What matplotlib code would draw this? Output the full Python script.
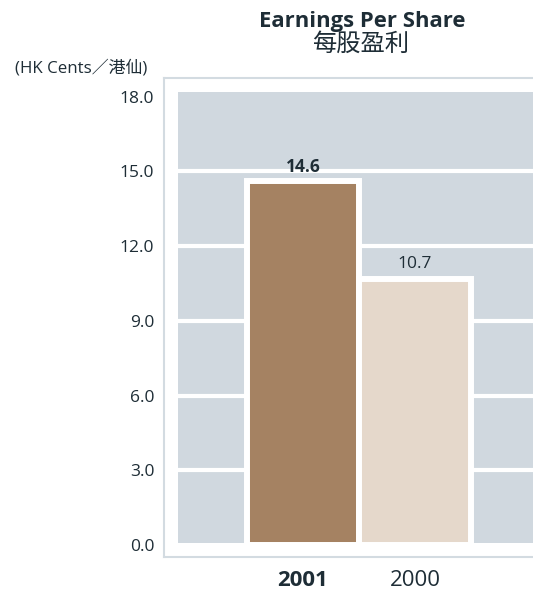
import matplotlib
matplotlib.use("Agg")
import matplotlib.pyplot as plt
from matplotlib.patches import Rectangle

years = ["2001", "2000"]
eps = [14.6, 10.7]
value_labels = ["14.6", "10.7"]
yticks = [0.0, 3.0, 6.0, 9.0, 12.0, 15.0, 18.0]

bar_colors = ["#a58262", "#e5d8cb"]
grey = "#d0d8df"
frame = "#d3dbe1"
txt = "#1e2d36"

plt.rcParams['font.family'] = ['Open Sans', 'Noto Sans CJK TC', 'DejaVu Sans']

fig = plt.figure(figsize=(5.33, 5.9), dpi=100)
ax = fig.add_axes([164/533, 33/590, 1 - 164/533, 479/590])
ax.set_xlim(-1.241, 2.054)
ax.set_ylim(-0.482, 18.755)

# grey panel + white grid
ax.add_patch(Rectangle((-1.116, 0.08), 4, 18.11, facecolor=grey, edgecolor='none', zorder=0))
for t in yticks[1:-1]:
    ax.axhline(t, color='white', lw=3, zorder=1)

x = list(range(len(years)))
ax.bar(x, eps, width=1.0, color=bar_colors, edgecolor='white', linewidth=4.3, zorder=2)

for i, (v, s) in enumerate(zip(eps, value_labels)):
    ax.annotate(s, (i, v), xytext=(0, 10.5), textcoords='offset points',
                ha='center', va='center', fontsize=12.5, color=txt,
                fontweight='bold' if i == 0 else 'normal')

ax.set_yticks(yticks)
ax.set_yticklabels([f"{t:.1f}" for t in yticks], fontsize=12.5, color=txt)
ax.set_xticks(x)
ax.set_xticklabels(years, fontsize=16, color=txt)
ax.get_xticklabels()[0].set_fontweight('bold')
ax.tick_params(axis='both', length=0)
ax.tick_params(axis='y', pad=7)
ax.tick_params(axis='x', pad=9)

for side in ['left', 'top', 'bottom']:
    ax.spines[side].set_color(frame)
    ax.spines[side].set_linewidth(1.5)
ax.spines['right'].set_visible(False)

fig.text(362/533, 1 - 21/590, "Earnings Per Share", ha='center', va='center',
         fontsize=15.8, fontweight='bold', color=txt)
fig.text(361/533, 1 - 45/590, "每股盈利", ha='center', va='center',
         fontsize=17.5, color=txt)
fig.text(15/533, 1 - 68/590, "(HK Cents／港仙)", ha='left', va='center',
         fontsize=12.2, color=txt)

fig.savefig("out.png", dpi=100)
